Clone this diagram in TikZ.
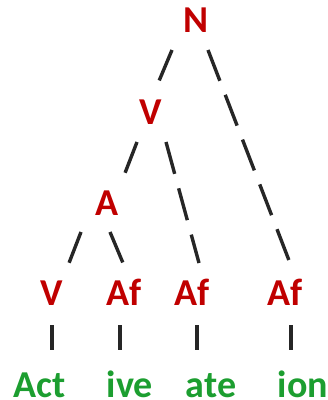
\documentclass[tikz,border=0pt]{standalone}
\usepackage{fontspec}
\setmainfont{Carlito}
\usetikzlibrary{calc}
\definecolor{catred}{RGB}{192,0,0}
\definecolor{morphgreen}{RGB}{28,158,48}
\definecolor{branchgray}{RGB}{38,38,38}

\begin{document}
\begin{tikzpicture}[x=1pt,y=-1pt,
  cat/.style={anchor=base,inner sep=0pt,text=catred,font=\fontsize{38}{40}\selectfont\bfseries},
  morph/.style={anchor=base,inner sep=0pt,text=morphgreen,font=\fontsize{38}{40}\selectfont\bfseries},
  branch/.style={branchgray,line width=3.4pt,dash pattern=on 33pt off 15pt}]
\useasboundingbox (0,0) rectangle (328,400);
\node[cat] (N) at (196,32) {N};
\node[cat] (V1) at (151,124) {V};
\node[cat] (A) at (107,215) {A};
\node[cat] (V2) at (52,305) {V};
\node[cat] (Af1) at (124,305) {Af};
\node[cat] (Af2) at (192,305) {Af};
\node[cat] (Af3) at (285,305) {Af};
\node[morph] (act) at (40,397) {Act};
\node[morph] (ive) at (130,397) {ive};
\node[morph] (ate) at (211,397) {ate};
\node[morph] (ion) at (303,397) {ion};
\draw[branch] ($(N.base)+(-24,18)$) -- ($(V1.base)+(8,-43)$);
\draw[branch] ($(N.base)+(12,18)$) -- ($(Af3.base)+(5,-42)$);
\draw[branch] ($(V1.base)+(-14,18)$) -- ($(A.base)+(18,-42)$);
\draw[branch] ($(V1.base)+(15,18)$) -- ($(Af2.base)+(7,-42)$);
\draw[branch] ($(A.base)+(-26,17)$) -- ($(V2.base)+(17,-42)$);
\draw[branch] ($(A.base)+(3,17)$) -- ($(Af1.base)+(-1,-42)$);
\draw[branch] ($(V2.base)+(0,20)$) -- ($(act.base)+(12,-47)$);
\draw[branch] ($(Af1.base)+(-4,20)$) -- ($(ive.base)+(-10,-47)$);
\draw[branch] ($(Af2.base)+(5,20)$) -- ($(ate.base)+(-14,-47)$);
\draw[branch] ($(Af3.base)+(6,20)$) -- ($(ion.base)+(-12,-47)$);
\end{tikzpicture}
\end{document}
